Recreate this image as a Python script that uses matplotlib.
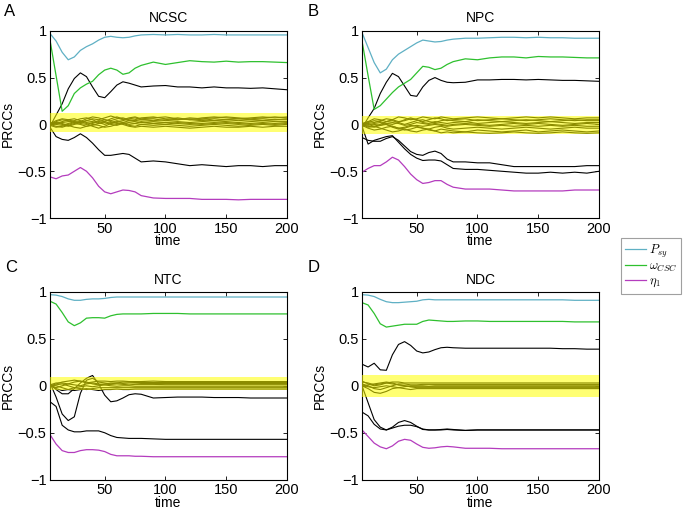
import matplotlib
matplotlib.use("Agg")
import matplotlib.pyplot as plt

plt.rcParams["font.family"] = ["Liberation Sans", "DejaVu Sans"]
plt.rcParams["mathtext.fontset"] = "cm"

# time grid shared by all curves
t = [5, 10, 15, 20, 25, 30, 35, 40, 45, 50, 55, 60, 65, 70, 75, 80,
     90, 100, 110, 120, 130, 140, 150, 160, 170, 180, 190, 200]

titles = ["NCSC", "NPC", "NTC", "NDC"]
letters = ["A", "B", "C", "D"]
yticks = [-1, -0.5, 0, 0.5, 1]
ytick_labels = ["\u22121", "\u22120.5", "0", "0.5", "1"]
xticks = [50, 100, 150, 200]
legend_labels = [r"$P_{sy}$", r"$\omega_{CSC}$", r"$\eta_1$"]

# significance band (low, high) per panel
bands = [(-0.08, 0.12), (-0.10, 0.09), (-0.05, 0.09), (-0.12, 0.12)]

# ---- panel A: NCSC
psy_a = [0.97, 0.89, 0.77, 0.69, 0.72, 0.79, 0.83, 0.86, 0.90, 0.93, 0.94, 0.93, 0.925, 0.93,
         0.945, 0.955, 0.96, 0.955, 0.96, 0.955, 0.955, 0.96, 0.955, 0.955, 0.955, 0.955, 0.955, 0.955]
omega_a = [0.90, 0.52, 0.14, 0.20, 0.33, 0.39, 0.43, 0.46, 0.53, 0.58, 0.60, 0.58, 0.535, 0.55,
           0.60, 0.63, 0.665, 0.64, 0.66, 0.68, 0.67, 0.665, 0.675, 0.665, 0.67, 0.67, 0.665, 0.66]
eta_a = [-0.56, -0.58, -0.55, -0.54, -0.50, -0.46, -0.50, -0.57, -0.66, -0.72, -0.74, -0.72, -0.70, -0.705,
         -0.72, -0.76, -0.785, -0.79, -0.79, -0.79, -0.80, -0.80, -0.80, -0.805, -0.80, -0.80, -0.80, -0.80]
black_a = [
    [-0.02, 0.10, 0.22, 0.38, 0.49, 0.55, 0.51, 0.40, 0.30, 0.285, 0.35, 0.42, 0.455, 0.44,
     0.42, 0.40, 0.41, 0.415, 0.40, 0.40, 0.39, 0.40, 0.39, 0.39, 0.385, 0.39, 0.38, 0.37],
    [-0.03, -0.13, -0.16, -0.17, -0.14, -0.10, -0.14, -0.20, -0.27, -0.33, -0.33, -0.32, -0.31, -0.32,
     -0.36, -0.40, -0.39, -0.40, -0.42, -0.44, -0.43, -0.44, -0.45, -0.44, -0.44, -0.45, -0.44, -0.44],
    [0.00, 0.03, 0.05, 0.04, 0.02, 0.03, 0.06, 0.08, 0.07, 0.05, 0.04, 0.06, 0.07, 0.05,
     0.04, 0.05, 0.06, 0.04, 0.05, 0.06, 0.05, 0.04, 0.05, 0.06, 0.05, 0.06, 0.05, 0.06],
    [0.01, 0.02, 0.00, -0.02, 0.00, 0.02, 0.04, 0.03, 0.01, 0.03, 0.06, 0.08, 0.06, 0.04,
     0.05, 0.07, 0.08, 0.06, 0.05, 0.07, 0.06, 0.07, 0.08, 0.07, 0.06, 0.07, 0.08, 0.07],
    [-0.01, 0.01, 0.03, 0.05, 0.06, 0.04, 0.02, 0.01, 0.03, 0.05, 0.03, 0.01, 0.02, 0.04,
     0.03, 0.02, 0.03, 0.02, 0.03, 0.02, 0.03, 0.04, 0.03, 0.02, 0.03, 0.04, 0.03, 0.03],
    [0.00, -0.02, -0.03, -0.01, 0.01, 0.00, -0.02, -0.01, 0.01, 0.02, 0.00, -0.01, 0.01, 0.02,
     0.01, 0.00, 0.01, 0.02, 0.01, 0.00, 0.01, 0.02, 0.01, 0.00, 0.01, 0.02, 0.01, 0.02],
    [0.00, 0.02, 0.01, -0.01, -0.03, -0.04, -0.02, 0.00, -0.01, -0.03, -0.02, 0.00, 0.01, -0.01,
     -0.02, 0.00, -0.01, 0.00, -0.01, -0.02, -0.01, 0.00, -0.01, -0.02, -0.01, 0.00, -0.01, 0.00],
    [0.01, 0.04, 0.06, 0.05, 0.03, 0.01, 0.00, 0.02, 0.04, 0.03, 0.01, 0.03, 0.04, 0.06,
     0.07, 0.05, 0.04, 0.05, 0.07, 0.05, 0.04, 0.06, 0.05, 0.04, 0.05, 0.04, 0.05, 0.05],
    [-0.01, -0.03, -0.02, 0.00, 0.02, 0.03, 0.01, -0.02, -0.04, -0.02, 0.01, 0.02, 0.00, -0.02,
     -0.03, -0.02, -0.03, -0.02, -0.03, -0.04, -0.03, -0.02, -0.03, -0.03, -0.02, -0.03, -0.02, -0.02],
    [0.00, 0.01, 0.02, 0.03, 0.04, 0.06, 0.07, 0.05, 0.02, 0.00, 0.02, 0.04, 0.02, 0.00,
     0.01, 0.03, 0.01, 0.00, 0.02, 0.01, 0.00, 0.01, 0.02, 0.01, 0.00, 0.01, 0.00, 0.01],
    [0.01, 0.00, -0.01, 0.01, 0.03, 0.02, 0.04, 0.06, 0.05, 0.07, 0.09, 0.07, 0.05, 0.07,
     0.08, 0.06, 0.07, 0.08, 0.06, 0.05, 0.07, 0.08, 0.07, 0.06, 0.07, 0.08, 0.07, 0.08],
]

# ---- panel B: NPC
psy_b = [0.98, 0.82, 0.66, 0.55, 0.59, 0.69, 0.75, 0.79, 0.83, 0.87, 0.90, 0.89, 0.88, 0.885,
         0.90, 0.91, 0.92, 0.92, 0.925, 0.93, 0.93, 0.925, 0.93, 0.925, 0.925, 0.92, 0.92, 0.92]
omega_b = [0.89, 0.52, 0.16, 0.20, 0.27, 0.34, 0.40, 0.44, 0.48, 0.55, 0.62, 0.61, 0.585, 0.60,
           0.64, 0.67, 0.70, 0.69, 0.71, 0.72, 0.72, 0.71, 0.725, 0.72, 0.72, 0.715, 0.71, 0.71]
eta_b = [-0.51, -0.47, -0.44, -0.44, -0.40, -0.35, -0.38, -0.45, -0.53, -0.59, -0.63, -0.62, -0.60, -0.60,
         -0.64, -0.67, -0.69, -0.69, -0.69, -0.70, -0.71, -0.71, -0.71, -0.71, -0.71, -0.70, -0.70, -0.70]
black_b = [
    [-0.04, 0.07, 0.17, 0.33, 0.45, 0.545, 0.51, 0.41, 0.31, 0.30, 0.40, 0.47, 0.50, 0.47,
     0.45, 0.445, 0.45, 0.475, 0.475, 0.48, 0.48, 0.475, 0.48, 0.475, 0.47, 0.47, 0.465, 0.46],
    [-0.14, -0.17, -0.18, -0.18, -0.15, -0.13, -0.17, -0.23, -0.29, -0.32, -0.33, -0.30, -0.285, -0.31,
     -0.37, -0.40, -0.40, -0.41, -0.41, -0.43, -0.45, -0.45, -0.45, -0.45, -0.45, -0.45, -0.44, -0.44],
    [-0.02, -0.21, -0.17, -0.15, -0.13, -0.12, -0.19, -0.26, -0.32, -0.36, -0.385, -0.38, -0.38, -0.39,
     -0.43, -0.47, -0.48, -0.48, -0.49, -0.50, -0.51, -0.52, -0.52, -0.51, -0.52, -0.51, -0.52, -0.50],
    [0.00, 0.03, 0.06, 0.05, 0.03, 0.05, 0.08, 0.07, 0.05, 0.06, 0.08, 0.07, 0.06, 0.08,
     0.07, 0.06, 0.07, 0.08, 0.07, 0.06, 0.07, 0.08, 0.07, 0.08, 0.07, 0.06, 0.07, 0.07],
    [0.01, 0.00, -0.02, 0.00, 0.03, 0.04, 0.02, 0.00, 0.02, 0.04, 0.05, 0.03, 0.02, 0.04,
     0.05, 0.04, 0.03, 0.05, 0.04, 0.03, 0.04, 0.05, 0.04, 0.03, 0.04, 0.05, 0.04, 0.04],
    [-0.01, -0.04, -0.06, -0.05, -0.03, -0.02, -0.04, -0.06, -0.05, -0.03, -0.04, -0.06, -0.07, -0.05,
     -0.06, -0.07, -0.08, -0.06, -0.07, -0.08, -0.07, -0.06, -0.08, -0.07, -0.06, -0.07, -0.08, -0.07],
    [0.00, 0.01, 0.00, -0.01, 0.01, 0.02, 0.01, -0.01, 0.00, 0.02, 0.01, 0.00, 0.01, 0.00,
     -0.01, 0.00, 0.01, 0.00, -0.01, 0.00, 0.01, 0.00, 0.01, 0.00, -0.01, 0.00, 0.01, 0.00],
    [0.00, -0.02, -0.03, -0.01, 0.00, -0.02, -0.04, -0.03, -0.01, -0.02, -0.04, -0.05, -0.03, -0.02,
     -0.04, -0.05, -0.04, -0.03, -0.04, -0.05, -0.04, -0.03, -0.04, -0.05, -0.04, -0.03, -0.04, -0.04],
    [0.01, 0.03, 0.02, 0.04, 0.06, 0.05, 0.03, 0.04, 0.06, 0.05, 0.02, 0.01, 0.03, 0.02,
     0.01, 0.02, 0.03, 0.01, 0.02, 0.03, 0.02, 0.01, 0.02, 0.03, 0.02, 0.01, 0.02, 0.02],
    [0.00, -0.01, 0.01, 0.02, 0.00, -0.03, -0.05, -0.04, -0.02, -0.01, -0.02, -0.01, 0.00, -0.01,
     -0.02, -0.01, 0.00, -0.01, -0.02, -0.01, -0.02, -0.01, -0.02, -0.01, -0.02, -0.01, -0.02, -0.02],
    [-0.01, 0.02, 0.04, 0.03, 0.01, 0.00, 0.02, 0.05, 0.07, 0.05, 0.03, 0.05, 0.07, 0.06,
     0.04, 0.05, 0.06, 0.04, 0.05, 0.06, 0.05, 0.04, 0.05, 0.06, 0.05, 0.04, 0.05, 0.05],
    [0.00, -0.03, -0.02, -0.04, -0.06, -0.08, -0.07, -0.05, -0.07, -0.08, -0.06, -0.05, -0.07, -0.09,
     -0.08, -0.09, -0.08, -0.09, -0.095, -0.09, -0.08, -0.09, -0.095, -0.09, -0.08, -0.09, -0.095, -0.09],
]

# ---- panel C: NTC
psy_c = [0.97, 0.965, 0.95, 0.925, 0.91, 0.91, 0.92, 0.925, 0.925, 0.93, 0.94, 0.945, 0.945, 0.945,
         0.945, 0.945, 0.945, 0.945, 0.945, 0.945, 0.945, 0.945, 0.945, 0.945, 0.945, 0.945, 0.945, 0.945]
omega_c = [0.90, 0.87, 0.78, 0.68, 0.64, 0.67, 0.72, 0.725, 0.725, 0.72, 0.745, 0.76, 0.765, 0.765,
           0.765, 0.765, 0.77, 0.77, 0.77, 0.765, 0.765, 0.765, 0.765, 0.765, 0.765, 0.765, 0.765, 0.765]
eta_c = [-0.52, -0.62, -0.69, -0.71, -0.71, -0.69, -0.68, -0.68, -0.685, -0.70, -0.73, -0.745, -0.745, -0.745,
         -0.75, -0.75, -0.755, -0.755, -0.755, -0.755, -0.755, -0.755, -0.755, -0.755, -0.755, -0.755, -0.755, -0.755]
black_c = [
    [0.02, -0.04, -0.085, -0.085, -0.03, 0.03, 0.08, 0.11, 0.02, -0.10, -0.17, -0.16, -0.13, -0.095,
     -0.085, -0.09, -0.13, -0.125, -0.12, -0.12, -0.12, -0.125, -0.125, -0.125, -0.13, -0.13, -0.13, -0.13],
    [0.03, -0.12, -0.30, -0.37, -0.33, -0.08, 0.06, 0.08, 0.04, 0.03, 0.02, 0.03, 0.04, 0.04,
     0.035, 0.035, 0.035, 0.035, 0.035, 0.035, 0.035, 0.035, 0.035, 0.035, 0.035, 0.035, 0.035, 0.035],
    [-0.17, -0.22, -0.42, -0.47, -0.49, -0.49, -0.48, -0.48, -0.48, -0.50, -0.53, -0.55, -0.555, -0.56,
     -0.56, -0.56, -0.565, -0.57, -0.57, -0.57, -0.57, -0.57, -0.57, -0.57, -0.57, -0.57, -0.57, -0.57],
    [0.00, 0.02, 0.04, 0.05, 0.06, 0.05, 0.03, 0.04, 0.05, 0.05, 0.045, 0.05, 0.05, 0.045,
     0.045, 0.045, 0.05, 0.045, 0.045, 0.045, 0.045, 0.045, 0.045, 0.045, 0.045, 0.045, 0.045, 0.045],
    [0.01, 0.03, 0.03, 0.02, 0.04, 0.05, 0.04, 0.02, 0.01, 0.02, 0.03, 0.03, 0.025, 0.03,
     0.03, 0.025, 0.025, 0.025, 0.025, 0.025, 0.025, 0.025, 0.025, 0.025, 0.025, 0.025, 0.025, 0.025],
    [0.00, -0.02, 0.00, 0.02, 0.01, 0.00, 0.02, 0.03, 0.02, 0.01, 0.015, 0.02, 0.015, 0.01,
     0.015, 0.015, 0.015, 0.012, 0.012, 0.012, 0.012, 0.012, 0.012, 0.012, 0.012, 0.012, 0.012, 0.012],
    [-0.01, 0.01, 0.02, 0.00, -0.02, -0.01, 0.00, -0.01, 0.00, 0.01, 0.00, -0.005, 0.00, 0.00,
     -0.005, -0.005, -0.005, -0.005, -0.005, -0.005, -0.005, -0.005, -0.005, -0.005, -0.005, -0.005, -0.005, -0.005],
    [0.00, -0.03, -0.05, -0.04, -0.02, -0.03, -0.04, -0.03, -0.02, -0.02, -0.02, -0.02, -0.02, -0.02,
     -0.02, -0.02, -0.02, -0.02, -0.02, -0.02, -0.02, -0.02, -0.02, -0.02, -0.02, -0.02, -0.02, -0.02],
    [0.01, 0.00, -0.02, -0.04, -0.05, -0.04, -0.03, -0.04, -0.05, -0.04, -0.04, -0.035, -0.04, -0.04,
     -0.035, -0.035, -0.035, -0.035, -0.035, -0.035, -0.035, -0.035, -0.035, -0.035, -0.035, -0.035, -0.035, -0.035],
]

# ---- panel D: NDC
psy_d = [0.97, 0.965, 0.95, 0.92, 0.895, 0.885, 0.885, 0.89, 0.895, 0.90, 0.915, 0.92, 0.915, 0.915,
         0.915, 0.915, 0.915, 0.915, 0.915, 0.915, 0.915, 0.915, 0.915, 0.915, 0.915, 0.91, 0.91, 0.91]
omega_d = [0.885, 0.86, 0.77, 0.66, 0.625, 0.635, 0.645, 0.655, 0.655, 0.655, 0.685, 0.70, 0.695, 0.69,
           0.685, 0.685, 0.69, 0.69, 0.685, 0.685, 0.685, 0.685, 0.685, 0.685, 0.685, 0.68, 0.68, 0.68]
eta_d = [-0.47, -0.54, -0.61, -0.65, -0.67, -0.64, -0.59, -0.57, -0.58, -0.62, -0.655, -0.665, -0.66, -0.65,
         -0.645, -0.65, -0.665, -0.665, -0.665, -0.67, -0.67, -0.67, -0.67, -0.67, -0.67, -0.67, -0.67, -0.67]
black_d = [
    [0.23, 0.20, 0.24, 0.17, 0.165, 0.33, 0.44, 0.47, 0.43, 0.37, 0.35, 0.36, 0.385, 0.405,
     0.41, 0.405, 0.40, 0.40, 0.40, 0.40, 0.40, 0.40, 0.40, 0.40, 0.395, 0.395, 0.39, 0.39],
    [-0.28, -0.32, -0.41, -0.46, -0.47, -0.44, -0.39, -0.37, -0.39, -0.43, -0.465, -0.47, -0.47, -0.465,
     -0.46, -0.465, -0.475, -0.47, -0.47, -0.47, -0.47, -0.47, -0.47, -0.47, -0.47, -0.47, -0.47, -0.47],
    [0.00, -0.18, -0.36, -0.44, -0.47, -0.45, -0.43, -0.42, -0.42, -0.435, -0.46, -0.47, -0.47, -0.47,
     -0.465, -0.47, -0.475, -0.47, -0.47, -0.47, -0.47, -0.47, -0.47, -0.47, -0.47, -0.47, -0.47, -0.47],
    [0.04, 0.03, 0.01, 0.02, 0.03, 0.04, 0.04, 0.03, 0.03, 0.03, 0.03, 0.03, 0.03, 0.03,
     0.03, 0.03, 0.03, 0.03, 0.03, 0.03, 0.03, 0.03, 0.03, 0.03, 0.03, 0.03, 0.03, 0.03],
    [0.02, 0.00, -0.03, -0.04, -0.02, 0.00, 0.02, 0.02, 0.01, 0.01, 0.015, 0.015, 0.015, 0.015,
     0.015, 0.015, 0.015, 0.015, 0.015, 0.015, 0.015, 0.015, 0.015, 0.015, 0.015, 0.015, 0.015, 0.015],
    [0.00, -0.03, -0.07, -0.08, -0.06, -0.03, -0.02, -0.01, 0.00, 0.00, 0.00, -0.005, 0.00, 0.00,
     0.00, 0.00, 0.00, 0.00, 0.00, 0.00, 0.00, 0.00, 0.00, 0.00, 0.00, 0.00, 0.00, 0.00],
    [0.05, 0.02, 0.00, 0.01, 0.03, 0.02, 0.01, 0.00, -0.01, -0.01, -0.01, -0.01, -0.01, -0.01,
     -0.01, -0.01, -0.01, -0.01, -0.01, -0.01, -0.01, -0.01, -0.01, -0.01, -0.01, -0.01, -0.01, -0.01],
    [-0.01, 0.01, 0.02, 0.03, 0.04, 0.03, 0.01, 0.00, -0.01, -0.02, -0.02, -0.02, -0.02, -0.02,
     -0.02, -0.02, -0.02, -0.02, -0.02, -0.02, -0.02, -0.02, -0.02, -0.02, -0.02, -0.02, -0.02, -0.02],
    [0.01, -0.01, -0.02, -0.01, 0.00, -0.01, -0.02, -0.03, -0.04, -0.03, -0.03, -0.03, -0.03, -0.03,
     -0.03, -0.03, -0.03, -0.03, -0.03, -0.03, -0.03, -0.03, -0.03, -0.03, -0.03, -0.03, -0.03, -0.03],
]

panels = [
    (psy_a, omega_a, eta_a, black_a),
    (psy_b, omega_b, eta_b, black_b),
    (psy_c, omega_c, eta_c, black_c),
    (psy_d, omega_d, eta_d, black_d),
]

c_psy = "#5fb0c4"
c_omega = "#2ec02e"
c_eta = "#b43cbe"

fig = plt.figure(figsize=(6.85, 5.12), dpi=100)
fig.patch.set_facecolor("white")

# axes rectangles in figure fractions (left, bottom, width, height)
rects = [(0.073, 0.574, 0.346, 0.366), (0.5285, 0.574, 0.346, 0.366),
         (0.073, 0.063, 0.346, 0.367), (0.5285, 0.063, 0.346, 0.367)]
letter_pos = [(0.006, 0.977), (0.449, 0.977), (0.008, 0.477), (0.449, 0.477)]

handles = None
for i, (psy, omega, eta, blacks) in enumerate(panels):
    ax = fig.add_axes(rects[i])
    for yb in blacks:
        ax.plot(t, yb, color="black", lw=0.8, zorder=2)
    h1, = ax.plot(t, psy, color=c_psy, lw=0.9, zorder=2)
    h2, = ax.plot(t, omega, color=c_omega, lw=0.9, zorder=2)
    h3, = ax.plot(t, eta, color=c_eta, lw=0.9, zorder=2)
    handles = [h1, h2, h3]
    lo, hi = bands[i]
    ax.axhspan(lo, hi, color="#ffff00", alpha=0.55, lw=0, zorder=3)

    ax.set_xlim(5, 200)
    ax.set_ylim(-1, 1)
    ax.set_xticks(xticks)
    ax.set_yticks(yticks)
    ax.set_yticklabels(ytick_labels)
    ax.tick_params(direction="in", top=True, right=True, length=3,
                   width=0.6, labelsize=10.5, pad=2.5)
    for s in ax.spines.values():
        s.set_linewidth(0.8)
    ax.set_xlabel("time", fontsize=10, labelpad=-1)
    ax.set_ylabel("PRCCs", fontsize=10, labelpad=2)
    ax.set_title(titles[i], fontsize=10, pad=6)
    fig.text(letter_pos[i][0], letter_pos[i][1], letters[i], fontsize=12,
             va="center", ha="left")

leg = fig.legend(handles, legend_labels, loc="upper left",
                 bbox_to_anchor=(0.897, 0.547), fontsize=9, frameon=True,
                 fancybox=False, edgecolor="#888888", handlelength=1.7,
                 handletextpad=0.2, borderpad=0.35, labelspacing=0.1)
leg.get_frame().set_linewidth(0.8)

fig.savefig("out.png", dpi=100)
